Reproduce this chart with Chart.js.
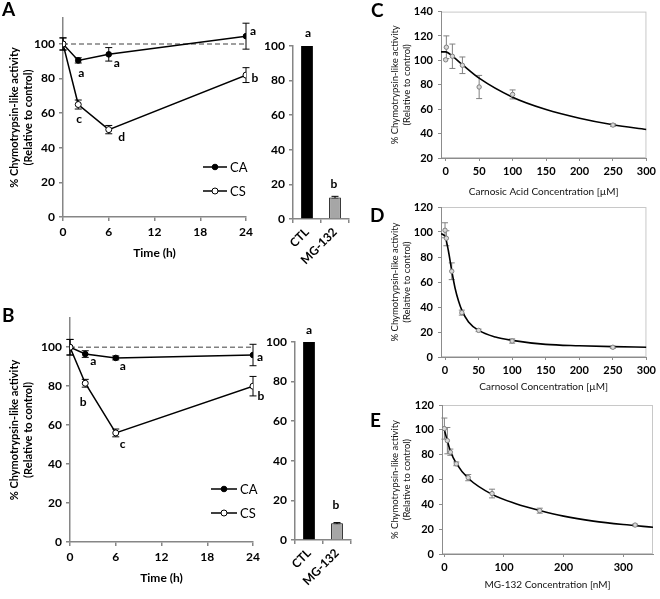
<!DOCTYPE html>
<html>
<head>
<meta charset="utf-8">
<script src="https://cdn.jsdelivr.net/npm/chart.js@4.4.1/dist/chart.umd.min.js"></script>
<style>
  body { margin: 0; background: #fff; }
  #figure { position: relative; width: 660px; height: 599px; overflow: hidden; }
  canvas { position: absolute; }
  .tag { position: absolute; font: bold 19px Lato, sans-serif; line-height: 19px; color: #000; }
</style>
</head>
<body>
<div id="figure">
  <canvas id="a-time" width="265" height="270" style="left:0;top:0"></canvas>
  <canvas id="a-bars" width="95" height="270" style="left:265px;top:0"></canvas>
  <canvas id="b-time" width="270" height="305" style="left:0;top:290px"></canvas>
  <canvas id="b-bars" width="95" height="305" style="left:265px;top:290px"></canvas>
  <canvas id="c-dose" width="280" height="198" style="left:380px;top:0"></canvas>
  <canvas id="d-dose" width="280" height="198" style="left:380px;top:195px"></canvas>
  <canvas id="e-dose" width="280" height="201" style="left:380px;top:390px"></canvas>
  <div class="tag" style="left:2px;top:-1px">A</div>
  <div class="tag" style="left:2px;top:305px">B</div>
  <div class="tag" style="left:371px;top:0">C</div>
  <div class="tag" style="left:370px;top:205px">D</div>
  <div class="tag" style="left:370px;top:410px">E</div>
</div>
<script>
Chart.defaults.font.family = 'Lato, sans-serif';
Chart.defaults.color = '#000';
Chart.defaults.animation = false;
Chart.defaults.plugins.legend.display = false;
Chart.defaults.plugins.tooltip.enabled = false;

const AXIS_GREY = '#868686';

// time course (A, B)
const timesH = [0, 2, 6, 24];
const timeTicks = [0, 6, 12, 18, 24];
const activityTicks = [0, 20, 40, 60, 80, 100];
const refTimes = [0, 24];
const refLevel = [100, 100];

const aCA = [100, 90.5, 94, 104.5];
const aCAErr = [3.5, 1.5, 3.9, 7.5];
const aCALetters = ['', 'a', 'a', 'a'];
const aCS = [100, 65, 50.5, 82];
const aCSErr = [3.5, 2.6, 2.4, 4.3];
const aCSLetters = ['', 'c', 'd', 'b'];

const bCA = [100, 96.5, 94.5, 96];
const bCAErr = [4, 1.7, 1, 5.5];
const bCALetters = ['', 'a', 'a', 'a'];
const bCS = [100, 81.5, 56, 80];
const bCSErr = [4, 2, 2, 5];
const bCSLetters = ['', 'b', 'c', 'b'];

// control vs MG-132 bars
const barLabels = ['CTL', 'MG-132'];
const barLetters = ['a', 'b'];
const aBar = [100, 12.5];
const aBarErr = [0, 0.6];
const bBar = [100, 8.4];
const bBarErr = [0, 0.4];

// C: carnosic acid
const caConc = [0, 1, 10, 25, 50, 100, 250];
const caAct = [100.5, 110.8, 103.4, 96, 78.2, 72.1, 47];
const caErr = [0, 9.3, 10, 6.8, 9.5, 3.7, 1];
const caFitX = [-7, 0, 10, 25, 50, 100, 150, 200, 250, 300];
const caFitY = [107, 107, 103.5, 96.5, 85.4, 69.8, 59.7, 52.6, 47.2, 43.3];
const caXTicks = [0, 50, 100, 150, 200, 250, 300];
const caYTicks = [20, 40, 60, 80, 100, 120, 140];

// D: carnosol
const csConc = [0, 2, 10, 25, 50, 100, 250];
const csAct = [101.4, 95, 68.6, 35.5, 21.3, 12.8, 7.8];
const csErr = [6, 6, 6.7, 2, 1, 1.7, 0.8];
const csFitX = [-6, 0, 5, 10, 15, 20, 25, 35, 50, 75, 100, 150, 200, 250, 300];
const csFitY = [98.6, 96.5, 85, 69, 55, 45, 37.5, 28, 21.3, 16, 13.3, 10.1, 9, 8.3, 7.8];
const csXTicks = [0, 50, 100, 150, 200, 250, 300];
const csYTicks = [0, 20, 40, 60, 80, 100, 120];

// E: MG-132
const mgConc = [0, 5, 10, 20, 40, 80, 160, 320];
const mgAct = [101, 91.3, 82, 72.6, 61.5, 48.7, 34.9, 23.3];
const mgErr = [8.5, 10.6, 2.5, 1.5, 2.5, 3.5, 2, 0.7];
const mgFitX = [0, 5, 10, 20, 40, 80, 120, 160, 200, 250, 300, 350];
const mgFitY = [100, 91, 83, 73, 61, 48, 40.5, 35, 30.5, 26.5, 23.7, 21.5];
const mgXTicks = [0, 100, 200, 300];
const mgYTicks = [0, 20, 40, 60, 80, 100, 120];

const pointValue = d => (typeof d === 'object' ? d.y : d);
const useTicks = list => scale => { scale.ticks = list.map(v => ({ value: v })); };

const errorBars = {
  id: 'errorBars',
  beforeDatasetsDraw(chart) {
    const ctx = chart.ctx;
    chart.data.datasets.forEach((ds, i) => {
      if (!ds.errors) return;
      const meta = chart.getDatasetMeta(i);
      const yScale = chart.scales[meta.yAxisID];
      const w = ds.capHalfWidth || 3.5;
      ctx.save();
      ctx.strokeStyle = ds.errorColor || '#000';
      ctx.lineWidth = 1;
      meta.data.forEach((el, j) => {
        const e = ds.errors[j];
        if (!e) return;
        const v = pointValue(ds.data[j]);
        const top = yScale.getPixelForValue(v + e);
        const bot = yScale.getPixelForValue(v - e);
        ctx.beginPath();
        ctx.moveTo(el.x, top); ctx.lineTo(el.x, bot);
        ctx.moveTo(el.x - w, top); ctx.lineTo(el.x + w, top);
        ctx.moveTo(el.x - w, bot); ctx.lineTo(el.x + w, bot);
        ctx.stroke();
      });
      ctx.restore();
    });
  }
};

const sigLetters = {
  id: 'sigLetters',
  afterDatasetsDraw(chart) {
    const ctx = chart.ctx;
    chart.data.datasets.forEach((ds, i) => {
      if (!ds.letters) return;
      const meta = chart.getDatasetMeta(i);
      ctx.save();
      ctx.font = 'bold 12px Lato, sans-serif';
      ctx.fillStyle = '#000';
      ctx.textAlign = 'center';
      ctx.textBaseline = 'middle';
      meta.data.forEach((el, j) => {
        if (!ds.letters[j]) return;
        const off = ds.letterOffsets[j];
        ctx.fillText(ds.letters[j], el.x + off[0], el.y + off[1]);
      });
      ctx.restore();
    });
  }
};

const lineKey = {
  id: 'lineKey',
  afterDraw(chart, args, opts) {
    if (!opts.items) return;
    const ctx = chart.ctx;
    opts.items.forEach(item => {
      const ds = chart.data.datasets.find(d => d.label === item.label);
      ctx.save();
      ctx.strokeStyle = '#000';
      ctx.lineWidth = 1.5;
      ctx.beginPath();
      ctx.moveTo(item.x, item.y);
      ctx.lineTo(item.x + opts.length, item.y);
      ctx.stroke();
      ctx.beginPath();
      ctx.arc(item.x + opts.length / 2, item.y, ds.pointRadius, 0, Math.PI * 2);
      ctx.fillStyle = ds.pointBackgroundColor;
      ctx.fill();
      ctx.lineWidth = 1;
      ctx.stroke();
      ctx.font = '13px Lato, sans-serif';
      ctx.fillStyle = '#000';
      ctx.textBaseline = 'middle';
      ctx.fillText(item.label, item.x + opts.length + 3, item.y + 1);
      ctx.restore();
    });
  }
};

const plotFrame = {
  id: 'plotFrame',
  beforeDraw(chart, args, opts) {
    if (!opts.color) return;
    const { left, top, right, bottom } = chart.chartArea;
    const ctx = chart.ctx;
    ctx.save();
    ctx.strokeStyle = opts.color;
    ctx.lineWidth = 1;
    ctx.strokeRect(left + 0.5, top + 0.5, right - left - 1, bottom - top - 1);
    ctx.restore();
  }
};

const boldTicks = size => ({ font: { size: size, weight: 'bold' }, color: '#000' });
const activityTitle = ['% Chymotrypsin-like activity', '(Relative to control)'];

function timeCourse(id, p) {
  const toPoints = vals => timesH.map((t, i) => ({ x: t, y: vals[i] }));
  new Chart(document.getElementById(id), {
    type: 'scatter',
    data: {
      datasets: [
        {
          label: 'CS', data: toPoints(p.cs), errors: p.csErr,
          letters: p.csLetters, letterOffsets: p.csOffsets,
          showLine: true, borderColor: '#000', borderWidth: 1.5,
          pointRadius: 3, pointBackgroundColor: '#fff', pointBorderColor: '#000', pointBorderWidth: 1
        },
        {
          label: 'CA', data: toPoints(p.ca), errors: p.caErr,
          letters: p.caLetters, letterOffsets: p.caOffsets,
          showLine: true, borderColor: '#000', borderWidth: 1.5,
          pointRadius: 2.8, pointBackgroundColor: '#000', pointBorderColor: '#000', pointBorderWidth: 1
        },
        {
          label: 'control', data: refTimes.map((t, i) => ({ x: t, y: refLevel[i] })),
          showLine: true, borderColor: '#808080', borderWidth: 1.5, borderDash: [5, 3], pointRadius: 0
        }
      ]
    },
    options: {
      responsive: false,
      layout: { padding: p.padding },
      scales: {
        x: {
          type: 'linear', min: 0, max: 24,
          afterBuildTicks: useTicks(timeTicks),
          afterFit: s => { s.height = p.xHeight; },
          border: { color: AXIS_GREY, width: 1.5 },
          grid: { drawOnChartArea: false, tickLength: 4, color: AXIS_GREY, lineWidth: 1.5 },
          ticks: { ...boldTicks(12), padding: 4, maxRotation: 0 },
          title: { display: true, text: 'Time (h)', font: { size: 12, weight: 'bold' }, padding: { top: 0, bottom: 10 } }
        },
        y: {
          min: 0, max: 115,
          afterBuildTicks: useTicks(activityTicks),
          afterFit: s => { s.width = p.yWidth; },
          border: { color: AXIS_GREY, width: 1.5 },
          grid: { drawOnChartArea: false, tickLength: 4, color: AXIS_GREY, lineWidth: 1.5 },
          ticks: { ...boldTicks(12), padding: 4 },
          title: { display: true, text: activityTitle, font: { size: 11, weight: 'bold', lineHeight: 1.25 }, padding: { top: 8, bottom: 0 } }
        }
      },
      plugins: { lineKey: p.key }
    },
    plugins: [errorBars, sigLetters, lineKey]
  });
}

function controlBars(id, vals, errs, offsets, p) {
  new Chart(document.getElementById(id), {
    type: 'bar',
    data: {
      labels: barLabels,
      datasets: [{
        data: vals, errors: errs, letters: barLetters, letterOffsets: offsets,
        backgroundColor: ['#000', '#a6a6a6'], borderColor: '#000', borderWidth: [0, 1],
        barPercentage: 0.42, categoryPercentage: 1
      }]
    },
    options: {
      responsive: false,
      layout: { padding: p.padding },
      scales: {
        x: {
          afterFit: s => { s.height = p.xHeight; },
          border: { color: AXIS_GREY, width: 1.5 },
          grid: { offset: true, drawOnChartArea: false, tickLength: 4, color: AXIS_GREY, lineWidth: 1.5 },
          ticks: { ...boldTicks(12), minRotation: 45, maxRotation: 45, autoSkip: false, padding: 2 }
        },
        y: {
          min: 0, max: 100,
          afterBuildTicks: useTicks(activityTicks),
          afterFit: s => { s.width = p.yWidth; },
          border: { color: AXIS_GREY, width: 1.5 },
          grid: { drawOnChartArea: false, tickLength: 4, color: AXIS_GREY, lineWidth: 1.5 },
          ticks: { ...boldTicks(12), padding: 4 }
        }
      }
    },
    plugins: [errorBars, sigLetters]
  });
}

function doseResponse(id, d) {
  new Chart(document.getElementById(id), {
    type: 'scatter',
    data: {
      datasets: [
        {
          data: d.conc.map((c, i) => ({ x: c, y: d.act[i] })), errors: d.err,
          errorColor: '#808080', capHalfWidth: 3,
          pointRadius: 2.2, pointBackgroundColor: '#d9d9d9', pointBorderColor: '#7f7f7f', pointBorderWidth: 1
        },
        {
          data: d.fitX.map((c, i) => ({ x: c, y: d.fitY[i] })),
          showLine: true, pointRadius: 0, borderColor: '#000', borderWidth: 1.6,
          cubicInterpolationMode: 'monotone'
        }
      ]
    },
    options: {
      responsive: false,
      layout: { padding: d.padding },
      scales: {
        x: {
          type: 'linear', min: d.xMin, max: d.xMax,
          afterBuildTicks: useTicks(d.xTicks),
          afterFit: s => { s.height = d.xHeight; },
          border: { color: '#8c8c8c', width: 1 },
          grid: { drawOnChartArea: false, tickLength: 3, color: '#8c8c8c' },
          ticks: { ...boldTicks(11), padding: 4, maxRotation: 0 },
          title: { display: true, text: d.xTitle, font: { size: 10 }, color: '#111', padding: { top: 0, bottom: 0 } }
        },
        y: {
          min: d.yMin, max: d.yMax,
          afterBuildTicks: useTicks(d.yTicks),
          afterFit: s => { s.width = d.yWidth; },
          border: { color: '#8c8c8c', width: 1 },
          grid: { drawOnChartArea: false, tickLength: 3, color: '#8c8c8c' },
          ticks: { ...boldTicks(11), padding: 5 },
          title: { display: true, text: activityTitle, font: { size: 9.5, lineHeight: 1.25 }, color: '#111', padding: { top: 9, bottom: 0 } }
        }
      },
      plugins: { plotFrame: { color: '#c8c8c8' } }
    },
    plugins: [plotFrame, errorBars]
  });
}

timeCourse('a-time', {
  ca: aCA, caErr: aCAErr, caLetters: aCALetters, caOffsets: [null, [3, 13], [8, 9], [7, -5]],
  cs: aCS, csErr: aCSErr, csLetters: aCSLetters, csOffsets: [null, [1, 15], [13, 8], [9, 3]],
  padding: { left: 0, top: 18, right: 19, bottom: 0 }, yWidth: 63, xHeight: 53,
  key: { length: 24, items: [{ label: 'CA', x: 203, y: 167 }, { label: 'CS', x: 203, y: 191 }] }
});

timeCourse('b-time', {
  ca: bCA, caErr: bCAErr, caLetters: bCALetters, caOffsets: [null, [8, 7], [7, 8], [7, 2]],
  cs: bCS, csErr: bCSErr, csLetters: bCSLetters, csOffsets: [null, [-2, 19], [7, 11], [8, 10]],
  padding: { left: 0, top: 28, right: 17, bottom: 0 }, yWidth: 70, xHeight: 53,
  key: { length: 26, items: [{ label: 'CA', x: 211, y: 199 }, { label: 'CS', x: 211, y: 223 }] }
});

controlBars('a-bars', aBar, aBarErr, [[1, -13], [-1, -13]],
  { padding: { left: 0, top: 46, right: 11, bottom: 0 }, yWidth: 28, xHeight: 51 });
controlBars('b-bars', bBar, bBarErr, [[0, -12], [-1, -18]],
  { padding: { left: 0, top: 52, right: 9, bottom: 0 }, yWidth: 30, xHeight: 55 });

doseResponse('c-dose', {
  conc: caConc, act: caAct, err: caErr, fitX: caFitX, fitY: caFitY,
  xMin: -7, xMax: 300, yMin: 20, yMax: 140, xTicks: caXTicks, yTicks: caYTicks,
  xTitle: 'Carnosic Acid Concentration [µM]',
  padding: { left: 0, top: 7, right: 8, bottom: 0 }, yWidth: 61, xHeight: 40
});

doseResponse('d-dose', {
  conc: csConc, act: csAct, err: csErr, fitX: csFitX, fitY: csFitY,
  xMin: -6, xMax: 300, yMin: 0, yMax: 120, xTicks: csXTicks, yTicks: csYTicks,
  xTitle: 'Carnosol Concentration [µM]',
  padding: { left: 0, top: 12, right: 8, bottom: 0 }, yWidth: 61, xHeight: 36
});

doseResponse('e-dose', {
  conc: mgConc, act: mgAct, err: mgErr, fitX: mgFitX, fitY: mgFitY,
  xMin: -4, xMax: 350, yMin: 0, yMax: 120, xTicks: mgXTicks, yTicks: mgYTicks,
  xTitle: 'MG-132 Concentration [nM]',
  padding: { left: 0, top: 15, right: 7, bottom: 0 }, yWidth: 62, xHeight: 37
});
</script>
</body>
</html>
